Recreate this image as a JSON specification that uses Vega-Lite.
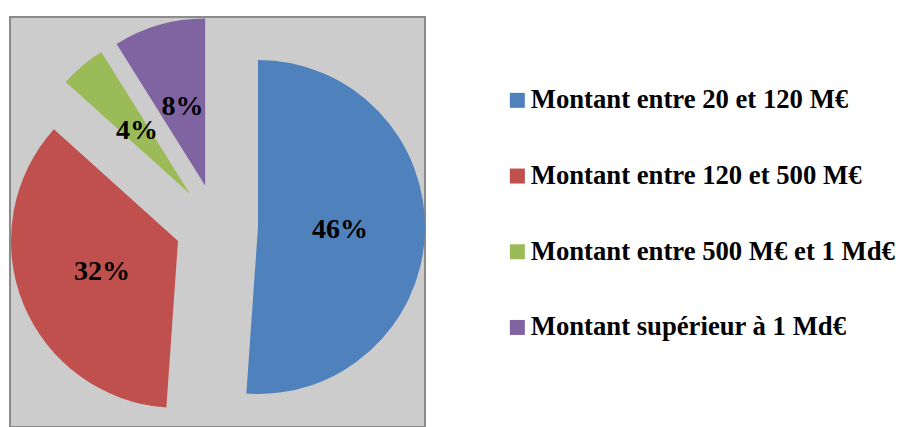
{
  "$schema": "https://vega.github.io/schema/vega-lite/v6.json",
  "width": 415,
  "height": 410,
  "padding": {"left": 10, "top": 17, "right": 0, "bottom": 0},
  "background": "white",
  "view": {"fill": "#cccccc", "stroke": "#8a8a8a", "strokeWidth": 2},
  "config": {
    "view": {"fill": "#cccccc", "stroke": "#8a8a8a", "strokeWidth": 2},
    "legend": {
      "orient": "none",
      "legendX": 494,
      "legendY": 70,
      "title": null,
      "symbolType": "square",
      "symbolSize": 225,
      "symbolStrokeWidth": 0,
      "symbolOpacity": 1,
      "labelFont": "Liberation Serif",
      "labelFontWeight": "bold",
      "labelFontSize": 26.7,
      "labelColor": "#000000",
      "labelOffset": 0,
      "labelLimit": 0,
      "rowPadding": 47.7
    }
  },
  "data": {
    "values": [
      {"categorie": "Montant entre 20 et 120 M€", "ordre": 1, "part": 0.46},
      {"categorie": "Montant entre 120 et 500 M€", "ordre": 2, "part": 0.32},
      {"categorie": "Montant entre 500 M€ et 1 Md€", "ordre": 3, "part": 0.04},
      {"categorie": "Montant supérieur à 1 Md€", "ordre": 4, "part": 0.08}
    ]
  },
  "transform": [
    {"stack": "part", "groupby": [], "sort": [{"field": "ordre", "order": "ascending"}], "as": ["debut", "fin"]}
  ],
  "encoding": {
    "theta": {"field": "debut", "type": "quantitative", "scale": {"domain": [0, 0.9]}},
    "color": {
      "field": "categorie",
      "type": "nominal",
      "scale": {
        "domain": ["Montant entre 20 et 120 M€", "Montant entre 120 et 500 M€", "Montant entre 500 M€ et 1 Md€", "Montant supérieur à 1 Md€"],
        "range": ["#4f81bd", "#c0504d", "#9bbb59", "#8064a2"]
      }
    }
  },
  "layer": [
    {
      "transform": [{"filter": "datum.ordre == 1"}],
      "layer": [
        {"mark": {"type": "arc", "radius": 167, "xOffset": 40.5, "yOffset": 5}, "encoding": {"theta2": {"field": "fin"}}},
        {"mark": {"type": "text", "radius": 82, "thetaOffset": 1.6057, "xOffset": 40.5, "yOffset": 5, "font": "Liberation Serif", "fontWeight": "bold", "fontSize": 28, "baseline": "middle", "align": "center"},
         "encoding": {"color": {"value": "#000000"}, "text": {"field": "part", "type": "quantitative", "format": ".0%"}}}
      ]
    },
    {
      "transform": [{"filter": "datum.ordre == 2"}],
      "layer": [
        {"mark": {"type": "arc", "radius": 167, "xOffset": -39.5, "yOffset": 19}, "encoding": {"theta2": {"field": "fin"}}},
        {"mark": {"type": "text", "radius": 82, "thetaOffset": 1.117, "xOffset": -39.5, "yOffset": 19, "font": "Liberation Serif", "fontWeight": "bold", "fontSize": 28, "baseline": "middle", "align": "center"},
         "encoding": {"color": {"value": "#000000"}, "text": {"field": "part", "type": "quantitative", "format": ".0%"}}}
      ]
    },
    {
      "transform": [{"filter": "datum.ordre == 3"}],
      "layer": [
        {"mark": {"type": "arc", "radius": 167, "xOffset": -27.7, "yOffset": -28.3}, "encoding": {"theta2": {"field": "fin"}}},
        {"mark": {"type": "text", "radius": 82, "thetaOffset": 0.1396, "xOffset": -27.7, "yOffset": -28.3, "font": "Liberation Serif", "fontWeight": "bold", "fontSize": 28, "baseline": "middle", "align": "center"},
         "encoding": {"color": {"value": "#000000"}, "text": {"field": "part", "type": "quantitative", "format": ".0%"}}}
      ]
    },
    {
      "transform": [{"filter": "datum.ordre == 4"}],
      "layer": [
        {"mark": {"type": "arc", "radius": 167, "xOffset": -12.4, "yOffset": -36.4}, "encoding": {"theta2": {"field": "fin"}}},
        {"mark": {"type": "text", "radius": 82, "thetaOffset": 0.2793, "xOffset": -12.4, "yOffset": -36.4, "font": "Liberation Serif", "fontWeight": "bold", "fontSize": 28, "baseline": "middle", "align": "center"},
         "encoding": {"color": {"value": "#000000"}, "text": {"field": "part", "type": "quantitative", "format": ".0%"}}}
      ]
    }
  ]
}
